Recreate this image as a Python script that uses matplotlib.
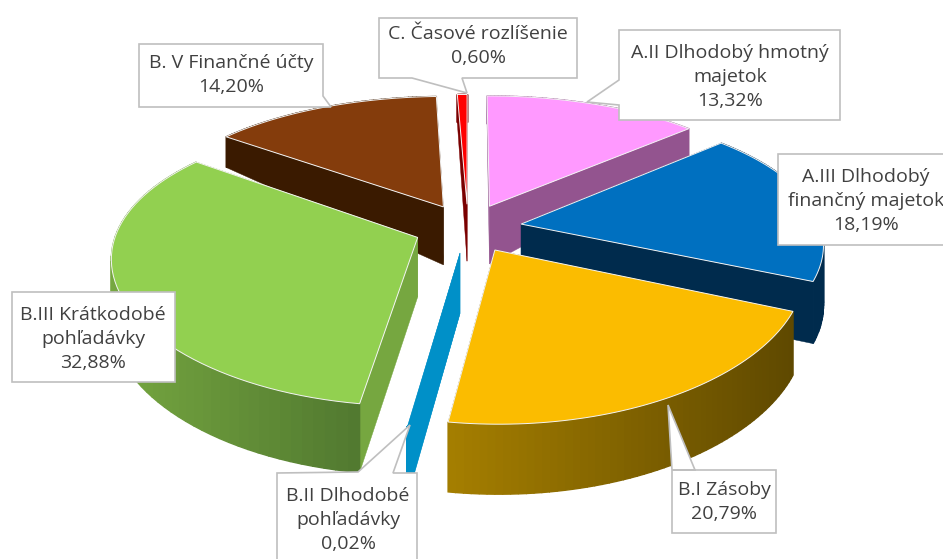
import numpy as np
import matplotlib
matplotlib.use('Agg')
import matplotlib.pyplot as plt
from matplotlib.patches import Polygon

names = ['A.II Dlhodobý hmotný\nmajetok', 'A.III Dlhodobý\nfinančný majetok', 'B.I Zásoby',
         'B.II Dlhodobé\npohľadávky', 'B.III Krátkodobé\npohľadávky', 'B. V Finančné účty',
         'C. Časové rozlíšenie']
values = [13.32, 18.19, 20.79, 0.02, 32.88, 14.20, 0.60]
pct_text = ['13,32%', '18,19%', '20,79%', '0,02%', '32,88%', '14,20%', '0,60%']
top_colors = ['#FF99FF', '#0070C0', '#FBBC00', '#0090C8', '#92D050', '#843C0C', '#FF0000']
side_colors = ['#93548F', '#002B4D', '#6B5300', '#0090C8', '#76A740', '#3A1A00', '#7A0000']
arc_left = ['#93548F', '#002B4D', '#A67F00', '#0090C8', '#76A740', '#3A1A00', '#7A0000']
arc_right = ['#93548F', '#002B4D', '#5F4900', '#0090C8', '#527A30', '#3A1A00', '#7A0000']

start_angle = 0.0
explode = 0.18
cx, cy = 468, 228
rx, ry = 300, 136
persp_x = 0.13
persp_y = 0.171


def project(X, Y):
    return cx + X * rx / (1 + persp_x * Y), cy - Y * ry / (1 + persp_y * Y)


def depth(y):
    return np.interp(y, [130, 207, 424], [28, 58, 70])


def mix(c1, c2, t):
    a = np.array(matplotlib.colors.to_rgb(c1))
    b = np.array(matplotlib.colors.to_rgb(c2))
    return a + (b - a) * t


fig = plt.figure(figsize=(9.43, 5.59), dpi=100)
ax = fig.add_axes([0, 0, 1, 1])
ax.set_xlim(0, 943)
ax.set_ylim(559, 0)
ax.axis('off')

spans = np.array(values) / sum(values) * 360
starts = start_angle + np.concatenate([[0], np.cumsum(spans)[:-1]])
mids = starts + spans / 2

# back slices first, so the front ones paint over them
for i in np.argsort(-np.cos(np.radians(mids))):
    th = np.radians(np.linspace(starts[i], starts[i] + spans[i], 60))
    ox = explode * np.sin(np.radians(mids[i]))
    oy = explode * np.cos(np.radians(mids[i]))
    ax_, ay_ = project(ox + np.sin(th), oy + np.cos(th))
    tx, ty = project(ox, oy)

    for ex, ey in [(ax_[0], ay_[0]), (ax_[-1], ay_[-1])]:
        pts = [(tx, ty), (ex, ey), (ex, ey + depth(ey)), (tx, ty + depth(ty))]
        ax.add_patch(Polygon(pts, closed=True, fc=side_colors[i], ec=side_colors[i], lw=0.3))

    for k in range(len(th) - 1):
        t = (ax_[k] - ax_.min()) / max(ax_.max() - ax_.min(), 1)
        col = mix(arc_left[i], arc_right[i], t)
        pts = [(ax_[k], ay_[k]), (ax_[k + 1], ay_[k + 1]),
               (ax_[k + 1], ay_[k + 1] + depth(ay_[k + 1])), (ax_[k], ay_[k] + depth(ay_[k]))]
        ax.add_patch(Polygon(pts, closed=True, fc=col, ec=col, lw=1.0))

    if spans[i] > 0.5:
        pts = [(tx, ty)] + list(zip(ax_, ay_))
        ax.add_patch(Polygon(pts, closed=True, fc=top_colors[i], ec='#F4F4F4', lw=0.7))

# callout boxes: outline points, text centre
boxes = [
    ([(619, 30), (840, 30), (840, 120), (619, 120), (619, 105), (587, 102), (619, 80)], (730, 77)),
    ([(778, 154), (950, 154), (950, 245), (778, 245)], (866, 201)),
    ([(672, 470), (776, 470), (776, 533), (672, 533), (672, 470), (668, 405), (695, 470)], (724, 502)),
    ([(277, 473), (358, 472), (410, 425), (393, 473), (417, 473), (417, 570), (277, 570)], (348, 520)),
    ([(12, 292), (175, 292), (175, 382), (12, 382)], (93, 339)),
    ([(139, 44), (323, 44), (323, 96), (331, 107), (139, 107)], (231, 75)),
    ([(379, 18), (577, 18), (577, 78), (462, 78), (467, 93), (412, 78), (379, 78)], (478, 46)),
]
for (pts, (tx, ty)), name, pct in zip(boxes, names, pct_text):
    ax.add_patch(Polygon(pts, closed=True, fc='white', ec='#BFBFBF', lw=1.2, zorder=5))
    ax.text(tx, ty, name + '\n' + pct, ha='center', va='center', family='Open Sans',
            fontsize=14, color='#404040', linespacing=1.45, zorder=6)

fig.savefig('out.png', dpi=100)
